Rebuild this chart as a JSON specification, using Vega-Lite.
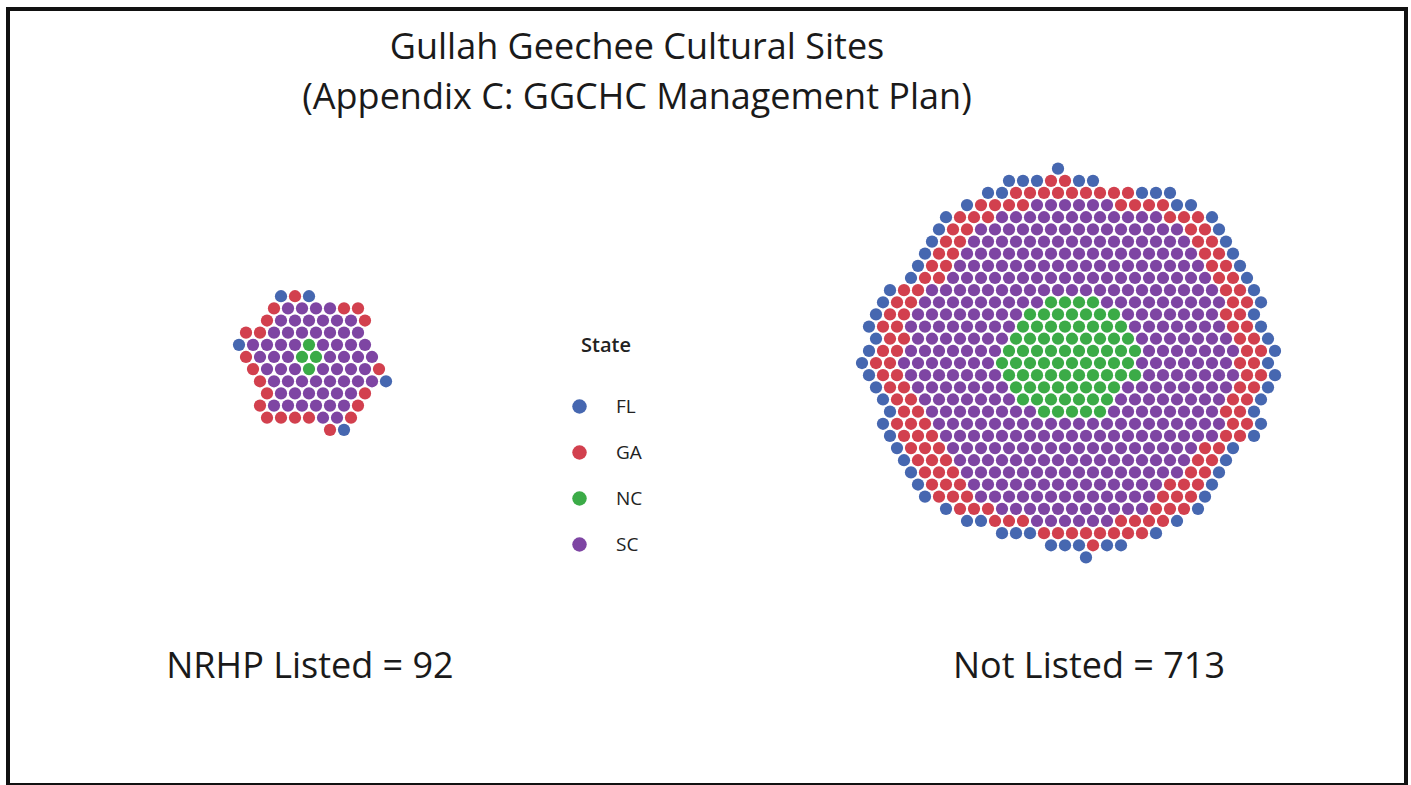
{
"$schema": "https://vega.github.io/schema/vega-lite/v6.json",
"autosize": "none",
"width": 1398,
"height": 776,
"padding": {"left": 8, "top": 9, "right": 5, "bottom": 0},
"background": "white",
"config": {"view": {"stroke": "#111", "strokeWidth": 4}},
"title": {"text": ["Gullah Geechee Cultural Sites", "(Appendix C: GGCHC Management Plan)"], "font": "Open Sans", "fontSize": 36, "fontWeight": "normal", "color": "#1a1a1a", "anchor": "middle", "baseline": "top", "offset": 0, "dx": -70, "dy": 108, "lineHeight": 50},
"layer": [
{
"data": {"values": [
{"x":19.5,"y":23,"s":"FL"},{"x":20.5,"y":23,"s":"GA"},{"x":21.5,"y":23,"s":"FL"},
{"x":19,"y":24,"s":"GA"},{"x":20,"y":24,"s":"SC"},{"x":21,"y":24,"s":"SC"},{"x":22,"y":24,"s":"SC"},{"x":23,"y":24,"s":"SC"},{"x":24,"y":24,"s":"GA"},{"x":25,"y":24,"s":"GA"},
{"x":18.5,"y":25,"s":"GA"},{"x":19.5,"y":25,"s":"SC"},{"x":20.5,"y":25,"s":"SC"},{"x":21.5,"y":25,"s":"SC"},{"x":22.5,"y":25,"s":"SC"},{"x":23.5,"y":25,"s":"SC"},{"x":24.5,"y":25,"s":"SC"},{"x":25.5,"y":25,"s":"GA"},
{"x":17,"y":26,"s":"GA"},{"x":18,"y":26,"s":"GA"},{"x":19,"y":26,"s":"SC"},{"x":20,"y":26,"s":"SC"},{"x":21,"y":26,"s":"SC"},{"x":22,"y":26,"s":"SC"},{"x":23,"y":26,"s":"SC"},{"x":24,"y":26,"s":"SC"},{"x":25,"y":26,"s":"SC"},
{"x":16.5,"y":27,"s":"FL"},{"x":17.5,"y":27,"s":"SC"},{"x":18.5,"y":27,"s":"SC"},{"x":19.5,"y":27,"s":"SC"},{"x":20.5,"y":27,"s":"SC"},{"x":21.5,"y":27,"s":"NC"},{"x":22.5,"y":27,"s":"SC"},{"x":23.5,"y":27,"s":"SC"},{"x":24.5,"y":27,"s":"SC"},{"x":25.5,"y":27,"s":"SC"},
{"x":17,"y":28,"s":"GA"},{"x":18,"y":28,"s":"SC"},{"x":19,"y":28,"s":"SC"},{"x":20,"y":28,"s":"SC"},{"x":21,"y":28,"s":"NC"},{"x":22,"y":28,"s":"NC"},{"x":23,"y":28,"s":"SC"},{"x":24,"y":28,"s":"SC"},{"x":25,"y":28,"s":"SC"},{"x":26,"y":28,"s":"SC"},
{"x":17.5,"y":29,"s":"GA"},{"x":18.5,"y":29,"s":"SC"},{"x":19.5,"y":29,"s":"SC"},{"x":20.5,"y":29,"s":"SC"},{"x":21.5,"y":29,"s":"NC"},{"x":22.5,"y":29,"s":"SC"},{"x":23.5,"y":29,"s":"SC"},{"x":24.5,"y":29,"s":"SC"},{"x":25.5,"y":29,"s":"SC"},{"x":26.5,"y":29,"s":"GA"},
{"x":18,"y":30,"s":"GA"},{"x":19,"y":30,"s":"SC"},{"x":20,"y":30,"s":"SC"},{"x":21,"y":30,"s":"SC"},{"x":22,"y":30,"s":"SC"},{"x":23,"y":30,"s":"SC"},{"x":24,"y":30,"s":"SC"},{"x":25,"y":30,"s":"SC"},{"x":26,"y":30,"s":"SC"},{"x":27,"y":30,"s":"FL"},
{"x":18.5,"y":31,"s":"GA"},{"x":19.5,"y":31,"s":"SC"},{"x":20.5,"y":31,"s":"SC"},{"x":21.5,"y":31,"s":"SC"},{"x":22.5,"y":31,"s":"SC"},{"x":23.5,"y":31,"s":"SC"},{"x":24.5,"y":31,"s":"SC"},{"x":25.5,"y":31,"s":"GA"},
{"x":18,"y":32,"s":"GA"},{"x":19,"y":32,"s":"SC"},{"x":20,"y":32,"s":"SC"},{"x":21,"y":32,"s":"SC"},{"x":22,"y":32,"s":"SC"},{"x":23,"y":32,"s":"SC"},{"x":24,"y":32,"s":"SC"},{"x":25,"y":32,"s":"GA"},
{"x":18.5,"y":33,"s":"GA"},{"x":19.5,"y":33,"s":"GA"},{"x":20.5,"y":33,"s":"GA"},{"x":21.5,"y":33,"s":"GA"},{"x":22.5,"y":33,"s":"SC"},{"x":23.5,"y":33,"s":"SC"},{"x":24.5,"y":33,"s":"GA"},
{"x":23,"y":34,"s":"GA"},{"x":24,"y":34,"s":"FL"},

{"x":75,"y":12.5,"s":"FL"},
{"x":71.5,"y":13.5,"s":"FL"},{"x":72.5,"y":13.5,"s":"FL"},{"x":73.5,"y":13.5,"s":"FL"},{"x":74.5,"y":13.5,"s":"GA"},{"x":75.5,"y":13.5,"s":"GA"},{"x":76.5,"y":13.5,"s":"FL"},{"x":77.5,"y":13.5,"s":"FL"},
{"x":70,"y":14.5,"s":"FL"},{"x":71,"y":14.5,"s":"FL"},{"x":72,"y":14.5,"s":"GA"},{"x":73,"y":14.5,"s":"GA"},{"x":74,"y":14.5,"s":"GA"},{"x":75,"y":14.5,"s":"GA"},{"x":76,"y":14.5,"s":"GA"},{"x":77,"y":14.5,"s":"GA"},{"x":78,"y":14.5,"s":"GA"},{"x":79,"y":14.5,"s":"GA"},{"x":80,"y":14.5,"s":"GA"},{"x":81,"y":14.5,"s":"FL"},{"x":82,"y":14.5,"s":"FL"},{"x":83,"y":14.5,"s":"FL"},
{"x":68.5,"y":15.5,"s":"FL"},{"x":69.5,"y":15.5,"s":"GA"},{"x":70.5,"y":15.5,"s":"GA"},{"x":71.5,"y":15.5,"s":"GA"},{"x":72.5,"y":15.5,"s":"GA"},{"x":73.5,"y":15.5,"s":"SC"},{"x":74.5,"y":15.5,"s":"SC"},{"x":75.5,"y":15.5,"s":"SC"},{"x":76.5,"y":15.5,"s":"SC"},{"x":77.5,"y":15.5,"s":"SC"},{"x":78.5,"y":15.5,"s":"SC"},{"x":79.5,"y":15.5,"s":"GA"},{"x":80.5,"y":15.5,"s":"GA"},{"x":81.5,"y":15.5,"s":"GA"},{"x":82.5,"y":15.5,"s":"GA"},{"x":83.5,"y":15.5,"s":"FL"},{"x":84.5,"y":15.5,"s":"FL"},
{"x":67,"y":16.5,"s":"FL"},{"x":68,"y":16.5,"s":"GA"},{"x":69,"y":16.5,"s":"GA"},{"x":70,"y":16.5,"s":"GA"},{"x":71,"y":16.5,"s":"SC"},{"x":72,"y":16.5,"s":"SC"},{"x":73,"y":16.5,"s":"SC"},{"x":74,"y":16.5,"s":"SC"},{"x":75,"y":16.5,"s":"SC"},{"x":76,"y":16.5,"s":"SC"},{"x":77,"y":16.5,"s":"SC"},{"x":78,"y":16.5,"s":"SC"},{"x":79,"y":16.5,"s":"SC"},{"x":80,"y":16.5,"s":"SC"},{"x":81,"y":16.5,"s":"SC"},{"x":82,"y":16.5,"s":"SC"},{"x":83,"y":16.5,"s":"GA"},{"x":84,"y":16.5,"s":"GA"},{"x":85,"y":16.5,"s":"GA"},{"x":86,"y":16.5,"s":"FL"},
{"x":66.5,"y":17.5,"s":"FL"},{"x":67.5,"y":17.5,"s":"GA"},{"x":68.5,"y":17.5,"s":"GA"},{"x":69.5,"y":17.5,"s":"SC"},{"x":70.5,"y":17.5,"s":"SC"},{"x":71.5,"y":17.5,"s":"SC"},{"x":72.5,"y":17.5,"s":"SC"},{"x":73.5,"y":17.5,"s":"SC"},{"x":74.5,"y":17.5,"s":"SC"},{"x":75.5,"y":17.5,"s":"SC"},{"x":76.5,"y":17.5,"s":"SC"},{"x":77.5,"y":17.5,"s":"SC"},{"x":78.5,"y":17.5,"s":"SC"},{"x":79.5,"y":17.5,"s":"SC"},{"x":80.5,"y":17.5,"s":"SC"},{"x":81.5,"y":17.5,"s":"SC"},{"x":82.5,"y":17.5,"s":"SC"},{"x":83.5,"y":17.5,"s":"SC"},{"x":84.5,"y":17.5,"s":"GA"},{"x":85.5,"y":17.5,"s":"GA"},{"x":86.5,"y":17.5,"s":"FL"},
{"x":66,"y":18.5,"s":"FL"},{"x":67,"y":18.5,"s":"GA"},{"x":68,"y":18.5,"s":"GA"},{"x":69,"y":18.5,"s":"SC"},{"x":70,"y":18.5,"s":"SC"},{"x":71,"y":18.5,"s":"SC"},{"x":72,"y":18.5,"s":"SC"},{"x":73,"y":18.5,"s":"SC"},{"x":74,"y":18.5,"s":"SC"},{"x":75,"y":18.5,"s":"SC"},{"x":76,"y":18.5,"s":"SC"},{"x":77,"y":18.5,"s":"SC"},{"x":78,"y":18.5,"s":"SC"},{"x":79,"y":18.5,"s":"SC"},{"x":80,"y":18.5,"s":"SC"},{"x":81,"y":18.5,"s":"SC"},{"x":82,"y":18.5,"s":"SC"},{"x":83,"y":18.5,"s":"SC"},{"x":84,"y":18.5,"s":"SC"},{"x":85,"y":18.5,"s":"GA"},{"x":86,"y":18.5,"s":"GA"},{"x":87,"y":18.5,"s":"FL"},
{"x":65.5,"y":19.5,"s":"FL"},{"x":66.5,"y":19.5,"s":"GA"},{"x":67.5,"y":19.5,"s":"GA"},{"x":68.5,"y":19.5,"s":"SC"},{"x":69.5,"y":19.5,"s":"SC"},{"x":70.5,"y":19.5,"s":"SC"},{"x":71.5,"y":19.5,"s":"SC"},{"x":72.5,"y":19.5,"s":"SC"},{"x":73.5,"y":19.5,"s":"SC"},{"x":74.5,"y":19.5,"s":"SC"},{"x":75.5,"y":19.5,"s":"SC"},{"x":76.5,"y":19.5,"s":"SC"},{"x":77.5,"y":19.5,"s":"SC"},{"x":78.5,"y":19.5,"s":"SC"},{"x":79.5,"y":19.5,"s":"SC"},{"x":80.5,"y":19.5,"s":"SC"},{"x":81.5,"y":19.5,"s":"SC"},{"x":82.5,"y":19.5,"s":"SC"},{"x":83.5,"y":19.5,"s":"SC"},{"x":84.5,"y":19.5,"s":"SC"},{"x":85.5,"y":19.5,"s":"GA"},{"x":86.5,"y":19.5,"s":"GA"},{"x":87.5,"y":19.5,"s":"FL"},
{"x":65,"y":20.5,"s":"FL"},{"x":66,"y":20.5,"s":"GA"},{"x":67,"y":20.5,"s":"GA"},{"x":68,"y":20.5,"s":"SC"},{"x":69,"y":20.5,"s":"SC"},{"x":70,"y":20.5,"s":"SC"},{"x":71,"y":20.5,"s":"SC"},{"x":72,"y":20.5,"s":"SC"},{"x":73,"y":20.5,"s":"SC"},{"x":74,"y":20.5,"s":"SC"},{"x":75,"y":20.5,"s":"SC"},{"x":76,"y":20.5,"s":"SC"},{"x":77,"y":20.5,"s":"SC"},{"x":78,"y":20.5,"s":"SC"},{"x":79,"y":20.5,"s":"SC"},{"x":80,"y":20.5,"s":"SC"},{"x":81,"y":20.5,"s":"SC"},{"x":82,"y":20.5,"s":"SC"},{"x":83,"y":20.5,"s":"SC"},{"x":84,"y":20.5,"s":"SC"},{"x":85,"y":20.5,"s":"SC"},{"x":86,"y":20.5,"s":"GA"},{"x":87,"y":20.5,"s":"GA"},{"x":88,"y":20.5,"s":"FL"},
{"x":64.5,"y":21.5,"s":"FL"},{"x":65.5,"y":21.5,"s":"GA"},{"x":66.5,"y":21.5,"s":"GA"},{"x":67.5,"y":21.5,"s":"SC"},{"x":68.5,"y":21.5,"s":"SC"},{"x":69.5,"y":21.5,"s":"SC"},{"x":70.5,"y":21.5,"s":"SC"},{"x":71.5,"y":21.5,"s":"SC"},{"x":72.5,"y":21.5,"s":"SC"},{"x":73.5,"y":21.5,"s":"SC"},{"x":74.5,"y":21.5,"s":"SC"},{"x":75.5,"y":21.5,"s":"SC"},{"x":76.5,"y":21.5,"s":"SC"},{"x":77.5,"y":21.5,"s":"SC"},{"x":78.5,"y":21.5,"s":"SC"},{"x":79.5,"y":21.5,"s":"SC"},{"x":80.5,"y":21.5,"s":"SC"},{"x":81.5,"y":21.5,"s":"SC"},{"x":82.5,"y":21.5,"s":"SC"},{"x":83.5,"y":21.5,"s":"SC"},{"x":84.5,"y":21.5,"s":"SC"},{"x":85.5,"y":21.5,"s":"SC"},{"x":86.5,"y":21.5,"s":"GA"},{"x":87.5,"y":21.5,"s":"GA"},{"x":88.5,"y":21.5,"s":"FL"},
{"x":63,"y":22.5,"s":"FL"},{"x":64,"y":22.5,"s":"GA"},{"x":65,"y":22.5,"s":"GA"},{"x":66,"y":22.5,"s":"SC"},{"x":67,"y":22.5,"s":"SC"},{"x":68,"y":22.5,"s":"SC"},{"x":69,"y":22.5,"s":"SC"},{"x":70,"y":22.5,"s":"SC"},{"x":71,"y":22.5,"s":"SC"},{"x":72,"y":22.5,"s":"SC"},{"x":73,"y":22.5,"s":"SC"},{"x":74,"y":22.5,"s":"SC"},{"x":75,"y":22.5,"s":"SC"},{"x":76,"y":22.5,"s":"SC"},{"x":77,"y":22.5,"s":"SC"},{"x":78,"y":22.5,"s":"SC"},{"x":79,"y":22.5,"s":"SC"},{"x":80,"y":22.5,"s":"SC"},{"x":81,"y":22.5,"s":"SC"},{"x":82,"y":22.5,"s":"SC"},{"x":83,"y":22.5,"s":"SC"},{"x":84,"y":22.5,"s":"SC"},{"x":85,"y":22.5,"s":"SC"},{"x":86,"y":22.5,"s":"SC"},{"x":87,"y":22.5,"s":"GA"},{"x":88,"y":22.5,"s":"GA"},{"x":89,"y":22.5,"s":"FL"},
{"x":62.5,"y":23.5,"s":"FL"},{"x":63.5,"y":23.5,"s":"GA"},{"x":64.5,"y":23.5,"s":"GA"},{"x":65.5,"y":23.5,"s":"SC"},{"x":66.5,"y":23.5,"s":"SC"},{"x":67.5,"y":23.5,"s":"SC"},{"x":68.5,"y":23.5,"s":"SC"},{"x":69.5,"y":23.5,"s":"SC"},{"x":70.5,"y":23.5,"s":"SC"},{"x":71.5,"y":23.5,"s":"SC"},{"x":72.5,"y":23.5,"s":"SC"},{"x":73.5,"y":23.5,"s":"SC"},{"x":74.5,"y":23.5,"s":"NC"},{"x":75.5,"y":23.5,"s":"NC"},{"x":76.5,"y":23.5,"s":"NC"},{"x":77.5,"y":23.5,"s":"NC"},{"x":78.5,"y":23.5,"s":"SC"},{"x":79.5,"y":23.5,"s":"SC"},{"x":80.5,"y":23.5,"s":"SC"},{"x":81.5,"y":23.5,"s":"SC"},{"x":82.5,"y":23.5,"s":"SC"},{"x":83.5,"y":23.5,"s":"SC"},{"x":84.5,"y":23.5,"s":"SC"},{"x":85.5,"y":23.5,"s":"SC"},{"x":86.5,"y":23.5,"s":"SC"},{"x":87.5,"y":23.5,"s":"GA"},{"x":88.5,"y":23.5,"s":"GA"},{"x":89.5,"y":23.5,"s":"FL"},
{"x":62,"y":24.5,"s":"FL"},{"x":63,"y":24.5,"s":"GA"},{"x":64,"y":24.5,"s":"GA"},{"x":65,"y":24.5,"s":"SC"},{"x":66,"y":24.5,"s":"SC"},{"x":67,"y":24.5,"s":"SC"},{"x":68,"y":24.5,"s":"SC"},{"x":69,"y":24.5,"s":"SC"},{"x":70,"y":24.5,"s":"SC"},{"x":71,"y":24.5,"s":"SC"},{"x":72,"y":24.5,"s":"SC"},{"x":73,"y":24.5,"s":"NC"},{"x":74,"y":24.5,"s":"NC"},{"x":75,"y":24.5,"s":"NC"},{"x":76,"y":24.5,"s":"NC"},{"x":77,"y":24.5,"s":"NC"},{"x":78,"y":24.5,"s":"NC"},{"x":79,"y":24.5,"s":"NC"},{"x":80,"y":24.5,"s":"SC"},{"x":81,"y":24.5,"s":"SC"},{"x":82,"y":24.5,"s":"SC"},{"x":83,"y":24.5,"s":"SC"},{"x":84,"y":24.5,"s":"SC"},{"x":85,"y":24.5,"s":"SC"},{"x":86,"y":24.5,"s":"SC"},{"x":87,"y":24.5,"s":"GA"},{"x":88,"y":24.5,"s":"GA"},{"x":89,"y":24.5,"s":"FL"},
{"x":61.5,"y":25.5,"s":"FL"},{"x":62.5,"y":25.5,"s":"GA"},{"x":63.5,"y":25.5,"s":"GA"},{"x":64.5,"y":25.5,"s":"SC"},{"x":65.5,"y":25.5,"s":"SC"},{"x":66.5,"y":25.5,"s":"SC"},{"x":67.5,"y":25.5,"s":"SC"},{"x":68.5,"y":25.5,"s":"SC"},{"x":69.5,"y":25.5,"s":"SC"},{"x":70.5,"y":25.5,"s":"SC"},{"x":71.5,"y":25.5,"s":"SC"},{"x":72.5,"y":25.5,"s":"NC"},{"x":73.5,"y":25.5,"s":"NC"},{"x":74.5,"y":25.5,"s":"NC"},{"x":75.5,"y":25.5,"s":"NC"},{"x":76.5,"y":25.5,"s":"NC"},{"x":77.5,"y":25.5,"s":"NC"},{"x":78.5,"y":25.5,"s":"NC"},{"x":79.5,"y":25.5,"s":"NC"},{"x":80.5,"y":25.5,"s":"SC"},{"x":81.5,"y":25.5,"s":"SC"},{"x":82.5,"y":25.5,"s":"SC"},{"x":83.5,"y":25.5,"s":"SC"},{"x":84.5,"y":25.5,"s":"SC"},{"x":85.5,"y":25.5,"s":"SC"},{"x":86.5,"y":25.5,"s":"SC"},{"x":87.5,"y":25.5,"s":"GA"},{"x":88.5,"y":25.5,"s":"GA"},{"x":89.5,"y":25.5,"s":"FL"},
{"x":62,"y":26.5,"s":"FL"},{"x":63,"y":26.5,"s":"GA"},{"x":64,"y":26.5,"s":"GA"},{"x":65,"y":26.5,"s":"SC"},{"x":66,"y":26.5,"s":"SC"},{"x":67,"y":26.5,"s":"SC"},{"x":68,"y":26.5,"s":"SC"},{"x":69,"y":26.5,"s":"SC"},{"x":70,"y":26.5,"s":"SC"},{"x":71,"y":26.5,"s":"SC"},{"x":72,"y":26.5,"s":"NC"},{"x":73,"y":26.5,"s":"NC"},{"x":74,"y":26.5,"s":"NC"},{"x":75,"y":26.5,"s":"NC"},{"x":76,"y":26.5,"s":"NC"},{"x":77,"y":26.5,"s":"NC"},{"x":78,"y":26.5,"s":"NC"},{"x":79,"y":26.5,"s":"NC"},{"x":80,"y":26.5,"s":"NC"},{"x":81,"y":26.5,"s":"SC"},{"x":82,"y":26.5,"s":"SC"},{"x":83,"y":26.5,"s":"SC"},{"x":84,"y":26.5,"s":"SC"},{"x":85,"y":26.5,"s":"SC"},{"x":86,"y":26.5,"s":"SC"},{"x":87,"y":26.5,"s":"SC"},{"x":88,"y":26.5,"s":"GA"},{"x":89,"y":26.5,"s":"GA"},{"x":90,"y":26.5,"s":"FL"},
{"x":61.5,"y":27.5,"s":"FL"},{"x":62.5,"y":27.5,"s":"GA"},{"x":63.5,"y":27.5,"s":"GA"},{"x":64.5,"y":27.5,"s":"SC"},{"x":65.5,"y":27.5,"s":"SC"},{"x":66.5,"y":27.5,"s":"SC"},{"x":67.5,"y":27.5,"s":"SC"},{"x":68.5,"y":27.5,"s":"SC"},{"x":69.5,"y":27.5,"s":"SC"},{"x":70.5,"y":27.5,"s":"SC"},{"x":71.5,"y":27.5,"s":"NC"},{"x":72.5,"y":27.5,"s":"NC"},{"x":73.5,"y":27.5,"s":"NC"},{"x":74.5,"y":27.5,"s":"NC"},{"x":75.5,"y":27.5,"s":"NC"},{"x":76.5,"y":27.5,"s":"NC"},{"x":77.5,"y":27.5,"s":"NC"},{"x":78.5,"y":27.5,"s":"NC"},{"x":79.5,"y":27.5,"s":"NC"},{"x":80.5,"y":27.5,"s":"NC"},{"x":81.5,"y":27.5,"s":"SC"},{"x":82.5,"y":27.5,"s":"SC"},{"x":83.5,"y":27.5,"s":"SC"},{"x":84.5,"y":27.5,"s":"SC"},{"x":85.5,"y":27.5,"s":"SC"},{"x":86.5,"y":27.5,"s":"SC"},{"x":87.5,"y":27.5,"s":"SC"},{"x":88.5,"y":27.5,"s":"GA"},{"x":89.5,"y":27.5,"s":"GA"},{"x":90.5,"y":27.5,"s":"FL"},
{"x":61,"y":28.5,"s":"FL"},{"x":62,"y":28.5,"s":"GA"},{"x":63,"y":28.5,"s":"GA"},{"x":64,"y":28.5,"s":"SC"},{"x":65,"y":28.5,"s":"SC"},{"x":66,"y":28.5,"s":"SC"},{"x":67,"y":28.5,"s":"SC"},{"x":68,"y":28.5,"s":"SC"},{"x":69,"y":28.5,"s":"SC"},{"x":70,"y":28.5,"s":"SC"},{"x":71,"y":28.5,"s":"NC"},{"x":72,"y":28.5,"s":"NC"},{"x":73,"y":28.5,"s":"NC"},{"x":74,"y":28.5,"s":"NC"},{"x":75,"y":28.5,"s":"NC"},{"x":76,"y":28.5,"s":"NC"},{"x":77,"y":28.5,"s":"NC"},{"x":78,"y":28.5,"s":"NC"},{"x":79,"y":28.5,"s":"NC"},{"x":80,"y":28.5,"s":"NC"},{"x":81,"y":28.5,"s":"SC"},{"x":82,"y":28.5,"s":"SC"},{"x":83,"y":28.5,"s":"SC"},{"x":84,"y":28.5,"s":"SC"},{"x":85,"y":28.5,"s":"SC"},{"x":86,"y":28.5,"s":"SC"},{"x":87,"y":28.5,"s":"SC"},{"x":88,"y":28.5,"s":"GA"},{"x":89,"y":28.5,"s":"GA"},{"x":90,"y":28.5,"s":"FL"},
{"x":61.5,"y":29.5,"s":"FL"},{"x":62.5,"y":29.5,"s":"GA"},{"x":63.5,"y":29.5,"s":"GA"},{"x":64.5,"y":29.5,"s":"SC"},{"x":65.5,"y":29.5,"s":"SC"},{"x":66.5,"y":29.5,"s":"SC"},{"x":67.5,"y":29.5,"s":"SC"},{"x":68.5,"y":29.5,"s":"SC"},{"x":69.5,"y":29.5,"s":"SC"},{"x":70.5,"y":29.5,"s":"SC"},{"x":71.5,"y":29.5,"s":"NC"},{"x":72.5,"y":29.5,"s":"NC"},{"x":73.5,"y":29.5,"s":"NC"},{"x":74.5,"y":29.5,"s":"NC"},{"x":75.5,"y":29.5,"s":"NC"},{"x":76.5,"y":29.5,"s":"NC"},{"x":77.5,"y":29.5,"s":"NC"},{"x":78.5,"y":29.5,"s":"NC"},{"x":79.5,"y":29.5,"s":"NC"},{"x":80.5,"y":29.5,"s":"NC"},{"x":81.5,"y":29.5,"s":"SC"},{"x":82.5,"y":29.5,"s":"SC"},{"x":83.5,"y":29.5,"s":"SC"},{"x":84.5,"y":29.5,"s":"SC"},{"x":85.5,"y":29.5,"s":"SC"},{"x":86.5,"y":29.5,"s":"SC"},{"x":87.5,"y":29.5,"s":"SC"},{"x":88.5,"y":29.5,"s":"GA"},{"x":89.5,"y":29.5,"s":"GA"},{"x":90.5,"y":29.5,"s":"FL"},
{"x":62,"y":30.5,"s":"FL"},{"x":63,"y":30.5,"s":"GA"},{"x":64,"y":30.5,"s":"GA"},{"x":65,"y":30.5,"s":"SC"},{"x":66,"y":30.5,"s":"SC"},{"x":67,"y":30.5,"s":"SC"},{"x":68,"y":30.5,"s":"SC"},{"x":69,"y":30.5,"s":"SC"},{"x":70,"y":30.5,"s":"SC"},{"x":71,"y":30.5,"s":"SC"},{"x":72,"y":30.5,"s":"NC"},{"x":73,"y":30.5,"s":"NC"},{"x":74,"y":30.5,"s":"NC"},{"x":75,"y":30.5,"s":"NC"},{"x":76,"y":30.5,"s":"NC"},{"x":77,"y":30.5,"s":"NC"},{"x":78,"y":30.5,"s":"NC"},{"x":79,"y":30.5,"s":"NC"},{"x":80,"y":30.5,"s":"SC"},{"x":81,"y":30.5,"s":"SC"},{"x":82,"y":30.5,"s":"SC"},{"x":83,"y":30.5,"s":"SC"},{"x":84,"y":30.5,"s":"SC"},{"x":85,"y":30.5,"s":"SC"},{"x":86,"y":30.5,"s":"SC"},{"x":87,"y":30.5,"s":"SC"},{"x":88,"y":30.5,"s":"GA"},{"x":89,"y":30.5,"s":"GA"},{"x":90,"y":30.5,"s":"FL"},
{"x":62.5,"y":31.5,"s":"FL"},{"x":63.5,"y":31.5,"s":"GA"},{"x":64.5,"y":31.5,"s":"GA"},{"x":65.5,"y":31.5,"s":"SC"},{"x":66.5,"y":31.5,"s":"SC"},{"x":67.5,"y":31.5,"s":"SC"},{"x":68.5,"y":31.5,"s":"SC"},{"x":69.5,"y":31.5,"s":"SC"},{"x":70.5,"y":31.5,"s":"SC"},{"x":71.5,"y":31.5,"s":"SC"},{"x":72.5,"y":31.5,"s":"NC"},{"x":73.5,"y":31.5,"s":"NC"},{"x":74.5,"y":31.5,"s":"NC"},{"x":75.5,"y":31.5,"s":"NC"},{"x":76.5,"y":31.5,"s":"NC"},{"x":77.5,"y":31.5,"s":"NC"},{"x":78.5,"y":31.5,"s":"NC"},{"x":79.5,"y":31.5,"s":"SC"},{"x":80.5,"y":31.5,"s":"SC"},{"x":81.5,"y":31.5,"s":"SC"},{"x":82.5,"y":31.5,"s":"SC"},{"x":83.5,"y":31.5,"s":"SC"},{"x":84.5,"y":31.5,"s":"SC"},{"x":85.5,"y":31.5,"s":"SC"},{"x":86.5,"y":31.5,"s":"SC"},{"x":87.5,"y":31.5,"s":"GA"},{"x":88.5,"y":31.5,"s":"GA"},{"x":89.5,"y":31.5,"s":"FL"},
{"x":63,"y":32.5,"s":"FL"},{"x":64,"y":32.5,"s":"GA"},{"x":65,"y":32.5,"s":"GA"},{"x":66,"y":32.5,"s":"SC"},{"x":67,"y":32.5,"s":"SC"},{"x":68,"y":32.5,"s":"SC"},{"x":69,"y":32.5,"s":"SC"},{"x":70,"y":32.5,"s":"SC"},{"x":71,"y":32.5,"s":"SC"},{"x":72,"y":32.5,"s":"SC"},{"x":73,"y":32.5,"s":"SC"},{"x":74,"y":32.5,"s":"NC"},{"x":75,"y":32.5,"s":"NC"},{"x":76,"y":32.5,"s":"NC"},{"x":77,"y":32.5,"s":"NC"},{"x":78,"y":32.5,"s":"NC"},{"x":79,"y":32.5,"s":"SC"},{"x":80,"y":32.5,"s":"SC"},{"x":81,"y":32.5,"s":"SC"},{"x":82,"y":32.5,"s":"SC"},{"x":83,"y":32.5,"s":"SC"},{"x":84,"y":32.5,"s":"SC"},{"x":85,"y":32.5,"s":"SC"},{"x":86,"y":32.5,"s":"SC"},{"x":87,"y":32.5,"s":"GA"},{"x":88,"y":32.5,"s":"GA"},{"x":89,"y":32.5,"s":"FL"},
{"x":62.5,"y":33.5,"s":"FL"},{"x":63.5,"y":33.5,"s":"GA"},{"x":64.5,"y":33.5,"s":"GA"},{"x":65.5,"y":33.5,"s":"GA"},{"x":66.5,"y":33.5,"s":"SC"},{"x":67.5,"y":33.5,"s":"SC"},{"x":68.5,"y":33.5,"s":"SC"},{"x":69.5,"y":33.5,"s":"SC"},{"x":70.5,"y":33.5,"s":"SC"},{"x":71.5,"y":33.5,"s":"SC"},{"x":72.5,"y":33.5,"s":"SC"},{"x":73.5,"y":33.5,"s":"SC"},{"x":74.5,"y":33.5,"s":"SC"},{"x":75.5,"y":33.5,"s":"SC"},{"x":76.5,"y":33.5,"s":"SC"},{"x":77.5,"y":33.5,"s":"SC"},{"x":78.5,"y":33.5,"s":"SC"},{"x":79.5,"y":33.5,"s":"SC"},{"x":80.5,"y":33.5,"s":"SC"},{"x":81.5,"y":33.5,"s":"SC"},{"x":82.5,"y":33.5,"s":"SC"},{"x":83.5,"y":33.5,"s":"SC"},{"x":84.5,"y":33.5,"s":"SC"},{"x":85.5,"y":33.5,"s":"SC"},{"x":86.5,"y":33.5,"s":"SC"},{"x":87.5,"y":33.5,"s":"GA"},{"x":88.5,"y":33.5,"s":"GA"},{"x":89.5,"y":33.5,"s":"FL"},
{"x":63,"y":34.5,"s":"FL"},{"x":64,"y":34.5,"s":"GA"},{"x":65,"y":34.5,"s":"GA"},{"x":66,"y":34.5,"s":"GA"},{"x":67,"y":34.5,"s":"SC"},{"x":68,"y":34.5,"s":"SC"},{"x":69,"y":34.5,"s":"SC"},{"x":70,"y":34.5,"s":"SC"},{"x":71,"y":34.5,"s":"SC"},{"x":72,"y":34.5,"s":"SC"},{"x":73,"y":34.5,"s":"SC"},{"x":74,"y":34.5,"s":"SC"},{"x":75,"y":34.5,"s":"SC"},{"x":76,"y":34.5,"s":"SC"},{"x":77,"y":34.5,"s":"SC"},{"x":78,"y":34.5,"s":"SC"},{"x":79,"y":34.5,"s":"SC"},{"x":80,"y":34.5,"s":"SC"},{"x":81,"y":34.5,"s":"SC"},{"x":82,"y":34.5,"s":"SC"},{"x":83,"y":34.5,"s":"SC"},{"x":84,"y":34.5,"s":"SC"},{"x":85,"y":34.5,"s":"SC"},{"x":86,"y":34.5,"s":"SC"},{"x":87,"y":34.5,"s":"GA"},{"x":88,"y":34.5,"s":"GA"},{"x":89,"y":34.5,"s":"FL"},
{"x":63.5,"y":35.5,"s":"FL"},{"x":64.5,"y":35.5,"s":"GA"},{"x":65.5,"y":35.5,"s":"GA"},{"x":66.5,"y":35.5,"s":"GA"},{"x":67.5,"y":35.5,"s":"SC"},{"x":68.5,"y":35.5,"s":"SC"},{"x":69.5,"y":35.5,"s":"SC"},{"x":70.5,"y":35.5,"s":"SC"},{"x":71.5,"y":35.5,"s":"SC"},{"x":72.5,"y":35.5,"s":"SC"},{"x":73.5,"y":35.5,"s":"SC"},{"x":74.5,"y":35.5,"s":"SC"},{"x":75.5,"y":35.5,"s":"SC"},{"x":76.5,"y":35.5,"s":"SC"},{"x":77.5,"y":35.5,"s":"SC"},{"x":78.5,"y":35.5,"s":"SC"},{"x":79.5,"y":35.5,"s":"SC"},{"x":80.5,"y":35.5,"s":"SC"},{"x":81.5,"y":35.5,"s":"SC"},{"x":82.5,"y":35.5,"s":"SC"},{"x":83.5,"y":35.5,"s":"SC"},{"x":84.5,"y":35.5,"s":"SC"},{"x":85.5,"y":35.5,"s":"GA"},{"x":86.5,"y":35.5,"s":"GA"},{"x":87.5,"y":35.5,"s":"FL"},
{"x":64,"y":36.5,"s":"FL"},{"x":65,"y":36.5,"s":"GA"},{"x":66,"y":36.5,"s":"GA"},{"x":67,"y":36.5,"s":"GA"},{"x":68,"y":36.5,"s":"SC"},{"x":69,"y":36.5,"s":"SC"},{"x":70,"y":36.5,"s":"SC"},{"x":71,"y":36.5,"s":"SC"},{"x":72,"y":36.5,"s":"SC"},{"x":73,"y":36.5,"s":"SC"},{"x":74,"y":36.5,"s":"SC"},{"x":75,"y":36.5,"s":"SC"},{"x":76,"y":36.5,"s":"SC"},{"x":77,"y":36.5,"s":"SC"},{"x":78,"y":36.5,"s":"SC"},{"x":79,"y":36.5,"s":"SC"},{"x":80,"y":36.5,"s":"SC"},{"x":81,"y":36.5,"s":"SC"},{"x":82,"y":36.5,"s":"SC"},{"x":83,"y":36.5,"s":"SC"},{"x":84,"y":36.5,"s":"SC"},{"x":85,"y":36.5,"s":"GA"},{"x":86,"y":36.5,"s":"GA"},{"x":87,"y":36.5,"s":"FL"},
{"x":64.5,"y":37.5,"s":"FL"},{"x":65.5,"y":37.5,"s":"GA"},{"x":66.5,"y":37.5,"s":"GA"},{"x":67.5,"y":37.5,"s":"GA"},{"x":68.5,"y":37.5,"s":"SC"},{"x":69.5,"y":37.5,"s":"SC"},{"x":70.5,"y":37.5,"s":"SC"},{"x":71.5,"y":37.5,"s":"SC"},{"x":72.5,"y":37.5,"s":"SC"},{"x":73.5,"y":37.5,"s":"SC"},{"x":74.5,"y":37.5,"s":"SC"},{"x":75.5,"y":37.5,"s":"SC"},{"x":76.5,"y":37.5,"s":"SC"},{"x":77.5,"y":37.5,"s":"SC"},{"x":78.5,"y":37.5,"s":"SC"},{"x":79.5,"y":37.5,"s":"SC"},{"x":80.5,"y":37.5,"s":"SC"},{"x":81.5,"y":37.5,"s":"SC"},{"x":82.5,"y":37.5,"s":"SC"},{"x":83.5,"y":37.5,"s":"SC"},{"x":84.5,"y":37.5,"s":"GA"},{"x":85.5,"y":37.5,"s":"GA"},{"x":86.5,"y":37.5,"s":"FL"},
{"x":65,"y":38.5,"s":"FL"},{"x":66,"y":38.5,"s":"GA"},{"x":67,"y":38.5,"s":"GA"},{"x":68,"y":38.5,"s":"GA"},{"x":69,"y":38.5,"s":"SC"},{"x":70,"y":38.5,"s":"SC"},{"x":71,"y":38.5,"s":"SC"},{"x":72,"y":38.5,"s":"SC"},{"x":73,"y":38.5,"s":"SC"},{"x":74,"y":38.5,"s":"SC"},{"x":75,"y":38.5,"s":"SC"},{"x":76,"y":38.5,"s":"SC"},{"x":77,"y":38.5,"s":"SC"},{"x":78,"y":38.5,"s":"SC"},{"x":79,"y":38.5,"s":"SC"},{"x":80,"y":38.5,"s":"SC"},{"x":81,"y":38.5,"s":"SC"},{"x":82,"y":38.5,"s":"SC"},{"x":83,"y":38.5,"s":"GA"},{"x":84,"y":38.5,"s":"GA"},{"x":85,"y":38.5,"s":"GA"},{"x":86,"y":38.5,"s":"FL"},
{"x":65.5,"y":39.5,"s":"FL"},{"x":66.5,"y":39.5,"s":"GA"},{"x":67.5,"y":39.5,"s":"GA"},{"x":68.5,"y":39.5,"s":"GA"},{"x":69.5,"y":39.5,"s":"SC"},{"x":70.5,"y":39.5,"s":"SC"},{"x":71.5,"y":39.5,"s":"SC"},{"x":72.5,"y":39.5,"s":"SC"},{"x":73.5,"y":39.5,"s":"SC"},{"x":74.5,"y":39.5,"s":"SC"},{"x":75.5,"y":39.5,"s":"SC"},{"x":76.5,"y":39.5,"s":"SC"},{"x":77.5,"y":39.5,"s":"SC"},{"x":78.5,"y":39.5,"s":"SC"},{"x":79.5,"y":39.5,"s":"SC"},{"x":80.5,"y":39.5,"s":"SC"},{"x":81.5,"y":39.5,"s":"SC"},{"x":82.5,"y":39.5,"s":"GA"},{"x":83.5,"y":39.5,"s":"GA"},{"x":84.5,"y":39.5,"s":"GA"},{"x":85.5,"y":39.5,"s":"FL"},
{"x":67,"y":40.5,"s":"FL"},{"x":68,"y":40.5,"s":"GA"},{"x":69,"y":40.5,"s":"GA"},{"x":70,"y":40.5,"s":"GA"},{"x":71,"y":40.5,"s":"SC"},{"x":72,"y":40.5,"s":"SC"},{"x":73,"y":40.5,"s":"SC"},{"x":74,"y":40.5,"s":"SC"},{"x":75,"y":40.5,"s":"SC"},{"x":76,"y":40.5,"s":"SC"},{"x":77,"y":40.5,"s":"SC"},{"x":78,"y":40.5,"s":"SC"},{"x":79,"y":40.5,"s":"SC"},{"x":80,"y":40.5,"s":"SC"},{"x":81,"y":40.5,"s":"SC"},{"x":82,"y":40.5,"s":"GA"},{"x":83,"y":40.5,"s":"GA"},{"x":84,"y":40.5,"s":"GA"},{"x":85,"y":40.5,"s":"FL"},
{"x":68.5,"y":41.5,"s":"FL"},{"x":69.5,"y":41.5,"s":"FL"},{"x":70.5,"y":41.5,"s":"GA"},{"x":71.5,"y":41.5,"s":"GA"},{"x":72.5,"y":41.5,"s":"GA"},{"x":73.5,"y":41.5,"s":"SC"},{"x":74.5,"y":41.5,"s":"SC"},{"x":75.5,"y":41.5,"s":"SC"},{"x":76.5,"y":41.5,"s":"SC"},{"x":77.5,"y":41.5,"s":"SC"},{"x":78.5,"y":41.5,"s":"SC"},{"x":79.5,"y":41.5,"s":"GA"},{"x":80.5,"y":41.5,"s":"GA"},{"x":81.5,"y":41.5,"s":"GA"},{"x":82.5,"y":41.5,"s":"GA"},{"x":83.5,"y":41.5,"s":"FL"},
{"x":71,"y":42.5,"s":"FL"},{"x":72,"y":42.5,"s":"FL"},{"x":73,"y":42.5,"s":"FL"},{"x":74,"y":42.5,"s":"GA"},{"x":75,"y":42.5,"s":"GA"},{"x":76,"y":42.5,"s":"GA"},{"x":77,"y":42.5,"s":"GA"},{"x":78,"y":42.5,"s":"GA"},{"x":79,"y":42.5,"s":"GA"},{"x":80,"y":42.5,"s":"GA"},{"x":81,"y":42.5,"s":"GA"},{"x":82,"y":42.5,"s":"FL"},
{"x":74.5,"y":43.5,"s":"FL"},{"x":75.5,"y":43.5,"s":"FL"},{"x":76.5,"y":43.5,"s":"FL"},{"x":77.5,"y":43.5,"s":"GA"},{"x":78.5,"y":43.5,"s":"FL"},{"x":79.5,"y":43.5,"s":"FL"},
{"x":77,"y":44.5,"s":"FL"}
]},
"mark": {"type": "circle", "size": 150, "opacity": 1},
"encoding": {
"x": {"field": "x", "type": "quantitative", "scale": {"domain": [0, 99.857], "nice": false, "zero": false}, "axis": null},
"y": {"field": "y", "type": "quantitative", "scale": {"domain": [-0.64, 63.23], "nice": false, "zero": false, "reverse": true}, "axis": null},
"color": {"field": "s", "type": "nominal", "title": "State",
"scale": {"domain": ["FL", "GA", "NC", "SC"], "range": ["#4667b0", "#d2404e", "#3bab47", "#7e45a3"]},
"legend": {"orient": "none", "legendX": 562, "legendY": 327, "padding": 0, "titleFont": "Open Sans", "titleFontSize": 20, "titleFontWeight": 600, "titleColor": "#222", "titleAnchor": "middle", "titlePadding": 41, "labelFont": "Open Sans", "labelFontSize": 19, "labelColor": "#222", "labelOffset": 27, "symbolSize": 210, "symbolType": "circle", "symbolStrokeWidth": 0, "symbolOpacity": 1, "rowPadding": 26}}
}
},
{
"data": {"values": [{"label": "NRHP Listed = 92"}]},
"mark": {"type": "text", "font": "Open Sans", "fontSize": 36, "color": "#1a1a1a", "align": "center", "baseline": "alphabetic"},
"encoding": {"x": {"datum": 21.57}, "y": {"datum": 54.42}, "text": {"field": "label"}}
},
{
"data": {"values": [{"label": "Not Listed = 713"}]},
"mark": {"type": "text", "font": "Open Sans", "fontSize": 36, "color": "#1a1a1a", "align": "center", "baseline": "alphabetic"},
"encoding": {"x": {"datum": 77.21}, "y": {"datum": 54.42}, "text": {"field": "label"}}
}
]
}
